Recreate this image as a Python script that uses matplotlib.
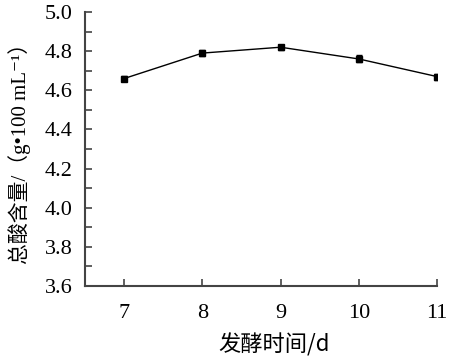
import matplotlib
matplotlib.use("Agg")
import matplotlib.pyplot as plt
from matplotlib.ticker import MultipleLocator, FormatStrFormatter

days = [7, 8, 9, 10, 11]
total_acid = [4.66, 4.79, 4.82, 4.76, 4.67]
errors = [0.012, 0.015, 0.012, 0.018, 0.015]

plt.rcParams['font.family'] = ['Liberation Serif', 'Noto Sans CJK SC', 'DejaVu Sans']

fig = plt.figure(figsize=(4.51, 3.6), dpi=100)
ax = fig.add_axes([0.1885, 0.2056, 0.7805, 0.7611])

ax.errorbar(days, total_acid, yerr=errors, color='black', marker='s', markersize=5,
            linewidth=1.0, capsize=2.5, elinewidth=1.0, capthick=1.0)

ax.set_xlim(6.5, 11)
ax.set_ylim(3.6, 5.0)
ax.set_xticks(days)
ax.set_xticklabels([str(d) for d in days])
ax.yaxis.set_major_locator(MultipleLocator(0.2))
ax.yaxis.set_minor_locator(MultipleLocator(0.1))
ax.yaxis.set_major_formatter(FormatStrFormatter('%.1f'))

for s in ['top', 'right']:
    ax.spines[s].set_visible(False)
for s in ['left', 'bottom']:
    ax.spines[s].set_color('#444444')
    ax.spines[s].set_linewidth(1.5)

ax.tick_params(axis='both', which='both', direction='in', color='#444444', width=1.2,
               labelsize=16)
ax.tick_params(axis='both', which='major', length=5)
ax.tick_params(axis='y', which='both', pad=9)
ax.tick_params(axis='y', which='minor', length=5)
ax.tick_params(axis='x', which='major', pad=13)

ax.set_xlabel('发酵时间/d', fontsize=16,
              family=['Noto Sans CJK SC', 'Liberation Serif'])
ax.xaxis.set_label_coords((274 - 85) / 352, -(345 - 286) / 274, transform=ax.transAxes)
ax.xaxis.label.set_va('center')
ax.set_ylabel('总酸含量/（g•100 mL⁻¹）', fontsize=15,
              family=['Liberation Serif', 'Noto Sans CJK SC', 'DejaVu Sans'])
ax.yaxis.set_label_coords(-(85 - 20) / 352, (286 - 148) / 274, transform=ax.transAxes)
ax.yaxis.label.set_va('center')

fig.savefig('out.png', dpi=100)
